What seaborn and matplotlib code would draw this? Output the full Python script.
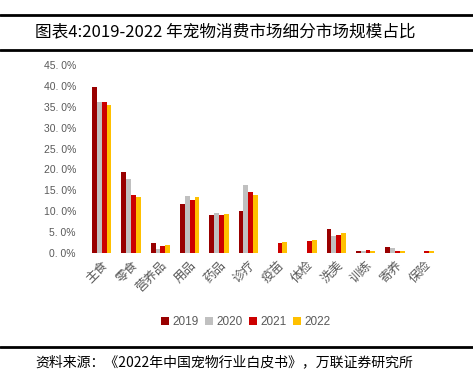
import numpy as np
import pandas as pd
import matplotlib
matplotlib.use("Agg")
import matplotlib.pyplot as plt
from matplotlib.lines import Line2D
from matplotlib.ticker import FuncFormatter
import seaborn as sns

# %% data
categories = ["主食", "零食", "营养品", "用品", "药品", "诊疗", "疫苗", "体检", "洗美", "训练", "寄养", "保险"]
years = ["2019", "2020", "2021", "2022"]
share_2019 = [39.6, 19.5, 2.5, 11.7, 9.1, 10.0, np.nan, np.nan, 5.8, 0.5, 1.5, np.nan]
share_2020 = [36.1, 17.8, 1.0, 13.7, 9.6, 16.3, np.nan, np.nan, 4.1, 0.5, 1.3, np.nan]
share_2021 = [36.1, 13.9, 1.7, 12.8, 9.1, 14.6, 2.5, 2.9, 4.4, 0.8, 0.6, 0.6]
share_2022 = [35.4, 13.3, 2.0, 13.4, 9.4, 13.9, 2.7, 3.1, 4.9, 0.6, 0.6, 0.6]
colors = ["#990000", "#c0c0c0", "#cc0000", "#ffc000"]

df = pd.DataFrame({
    "category": categories * 4,
    "year": sum([[y] * len(categories) for y in years], []),
    "share": share_2019 + share_2020 + share_2021 + share_2022,
})

# %% plot
sns.set_style("white")
plt.rcParams["font.family"] = ["Noto Sans CJK SC", "DejaVu Sans"]

fig = plt.figure(figsize=(4.73, 3.75), dpi=100)
ax = fig.add_axes([0.184, 0.325, 0.744, 0.502])
sns.barplot(data=df, x="category", y="share", hue="year", palette=colors,
            width=0.66, gap=0, ax=ax, saturation=1, linewidth=0)

ax.set_ylim(0, 45)
ax.set_yticks(np.arange(0, 46, 5))
ax.yaxis.set_major_formatter(FuncFormatter(lambda v, p: "{:.1f}%".format(v).replace(".", ". ")))
for lab in ax.get_yticklabels():
    lab.set_fontfamily("Liberation Sans")
ax.tick_params(axis="y", labelsize=7.5, colors="#595959", length=0, pad=8)
ax.tick_params(axis="x", labelsize=9, colors="#595959", length=0, pad=4)
plt.setp(ax.get_xticklabels(), rotation=45, ha="right", rotation_mode="anchor")
ax.set_xlabel("")
ax.set_ylabel("")
ax.set_xlim(-0.5, len(categories) - 0.5)
sns.despine(ax=ax, left=True, bottom=True)

leg = ax.legend(loc="center", bbox_to_anchor=(0.52, 1 - 322 / 375), bbox_transform=fig.transFigure,
                ncol=4, frameon=False, handlelength=0.7, handleheight=0.7,
                handletextpad=0.3, columnspacing=0.5, fontsize=8.5)
for t in leg.get_texts():
    t.set_color("#595959")
    t.set_fontfamily("Liberation Sans")

# title block and source
for y, lw in [(1 - 15 / 375, 2.0), (1 - 50 / 375, 2.0), (1 - 347 / 375, 2.0)]:
    fig.add_artist(Line2D([0, 1], [y, y], color="black", lw=lw, transform=fig.transFigure))
fig.text(0.074, 1 - 32 / 375, "图表4:2019-2022 年宠物消费市场细分市场规模占比",
         fontsize=12, va="center", ha="left", color="black")
fig.text(0.074, 1 - 362 / 375, "资料来源：《2022年中国宠物行业白皮书》，万联证券研究所",
         fontsize=10, va="center", ha="left", style="italic", color="black")

plt.savefig("out.png", dpi=100)
